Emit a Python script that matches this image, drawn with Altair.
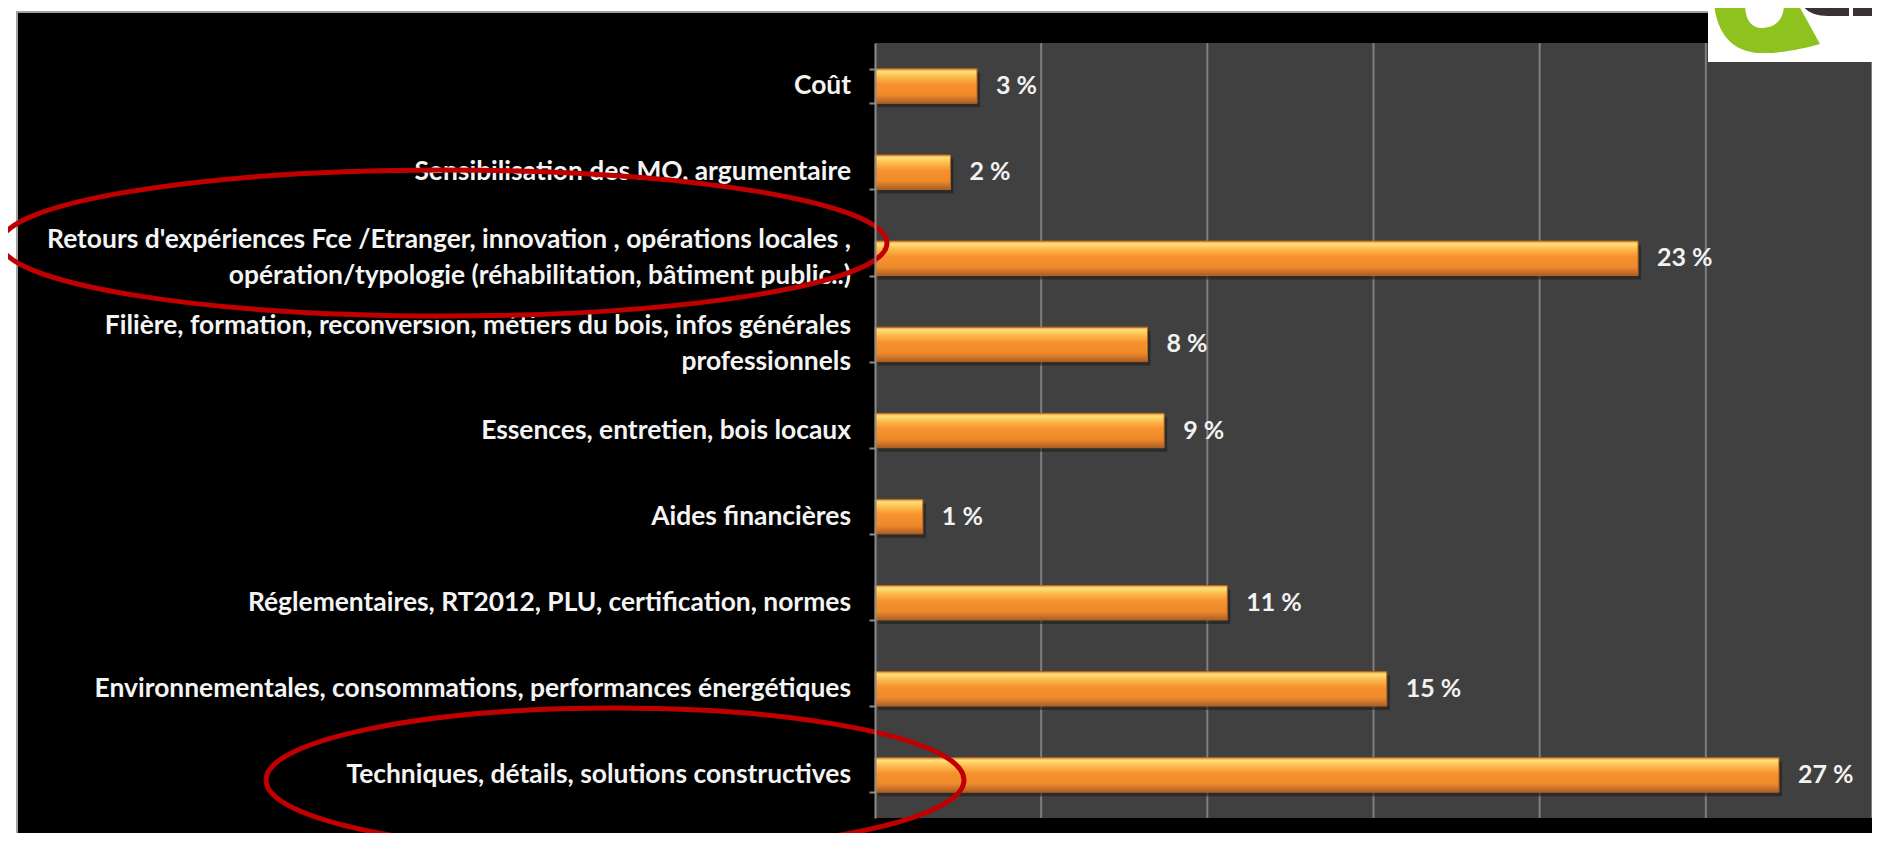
import altair as alt
import pandas as pd

# ---------------- data ----------------
categories = [
    "Coût",
    "Sensibilisation des MO, argumentaire",
    "Retours d'expériences Fce /Etranger, innovation , opérations locales ,\nopération/typologie (réhabilitation, bâtiment public..)",
    "Filière, formation, reconversion, métiers du bois, infos générales\nprofessionnels",
    "Essences, entretien, bois locaux",
    "Aides financières",
    "Réglementaires, RT2012, PLU, certification, normes",
    "Environnementales, consommations, performances énergétiques",
    "Techniques, détails, solutions constructives",
]
values = [3.07, 2.27, 22.96, 8.2, 8.7, 1.44, 10.6, 15.4, 27.2]
value_labels = ["3 %", "2 %", "23 %", "8 %", "9 %", "1 %", "11 %", "15 %", "27 %"]
grid_ticks = [5, 10, 15, 20, 25, 30]

df = pd.DataFrame({"cat": categories, "value": values, "label": value_labels})
grid_df = pd.DataFrame({"t": grid_ticks})
one = alt.Data(values=[{"k": 0}])

W, H = 997, 775
X0, Y0 = 875, 43  # page position of the plot origin (for decorations)
LINE_H = 36
LABEL_FONT = dict(font="Lato", fontWeight="bold", fontSize=26.4, color="#f4f4f4")

x_scale = alt.Scale(domain=[0, 30], nice=False, zero=True)
y_scale = alt.Scale(domain=categories, paddingInner=0.6, paddingOuter=0.3)
y_axis = alt.Axis(
    title=None, labels=False, zindex=2,
    domainColor="#8c8c8c", domainWidth=2, tickColor="#8c8c8c", tickWidth=2,
    tickSize=6, tickBand="extent", grid=False,
)

X = alt.X("value:Q", scale=x_scale, axis=None)
Y = alt.Y("cat:N", scale=y_scale, sort=None, axis=y_axis)

# ---------------- decorations ----------------
frame = alt.Chart(one).mark_rect(color="#000000", stroke="#a0a0a0", strokeWidth=2).encode(
    x=alt.value(17 - X0), x2=alt.value(1895 - X0),
    y=alt.value(12 - Y0), y2=alt.value(860 - Y0),
)
plot_bg = alt.Chart(one).mark_rect(color="#404040").encode(
    x=alt.value(0), x2=alt.value(W + 6), y=alt.value(0), y2=alt.value(H)
)
grid = alt.Chart(grid_df).mark_rule(color="#7f7f7f", strokeWidth=2).encode(
    x=alt.X("t:Q", scale=x_scale, axis=None)
)

gradient = alt.LinearGradient(
    gradient="linear", x1=0, x2=0, y1=0, y2=1,
    stops=[
        alt.GradientStop(offset=0.0, color="#E8963A"),
        alt.GradientStop(offset=0.08, color="#FFE07A"),
        alt.GradientStop(offset=0.22, color="#FDBE50"),
        alt.GradientStop(offset=0.45, color="#F7922E"),
        alt.GradientStop(offset=0.75, color="#EE8A2A"),
        alt.GradientStop(offset=0.9, color="#C9712A"),
        alt.GradientStop(offset=1.0, color="#A85E22"),
    ],
)

shadow = alt.Chart(df).mark_bar(color="#1a1a1a", opacity=0.55, xOffset=3, yOffset=4).encode(x=X, y=Y)
bars = alt.Chart(df).mark_bar(color=gradient, stroke="#B8651E", strokeWidth=1).encode(x=X, y=Y)
texts = alt.Chart(df).mark_text(
    align="left", baseline="middle", dx=19, font="Lato", fontWeight="bold",
    fontSize=25, color="#f2f2f2"
).encode(x=X, y=Y, text="label:N")

# category labels (left of the axis)
cat_single = alt.Chart(df).transform_filter(
    "indexof(datum.cat, '\\n') < 0"
).mark_text(align="right", baseline="middle", **LABEL_FONT).encode(
    y=Y, x=alt.value(-24), text="cat:N"
)
cat_multi = alt.Chart(df).transform_filter(
    "indexof(datum.cat, '\\n') >= 0"
).transform_calculate(
    lines="split(datum.cat, '\\n')"
).mark_text(align="right", baseline="middle", lineHeight=LINE_H, dy=-LINE_H / 2,
            **LABEL_FONT).encode(
    y=Y, x=alt.value(-24), text="lines:N"
)

ell1_rx, ell1_ry, ell1_cx, ell1_cy = 443, 73, 444, 243
ell2_rx, ell2_ry, ell2_cx, ell2_cy = 349, 72, 615, 780


def ellipse(rx, ry, cx, cy):
    r = ry / rx
    path = f"M-1,0A1,{r:.4f} 0 1,1 1,0A1,{r:.4f} 0 1,1 -1,0Z"
    return alt.Chart(one).mark_point(
        shape=path, size=(2 * rx) ** 2, filled=False, color="#C00000",
        strokeWidth=5, opacity=1
    ).encode(x=alt.value(cx - X0), y=alt.value(cy - Y0))


ell1 = ellipse(ell1_rx, ell1_ry, ell1_cx, ell1_cy)
ell2 = ellipse(ell2_rx, ell2_ry, ell2_cx, ell2_cy)


def shape_px(path, color):
    # size=4 -> path units are pixels relative to the plot origin
    return alt.Chart(one).mark_point(
        shape=path, size=4, filled=True, color=color, opacity=1, strokeWidth=0
    ).encode(x=alt.value(0), y=alt.value(0))


logo_bg = alt.Chart(one).mark_rect(color="#ffffff").encode(
    x=alt.value(1708 - X0), x2=alt.value(1895 - X0), y=alt.value(-60), y2=alt.value(62 - Y0)
)
green_path = (
    f"M{1714 - X0},{4 - Y0} C{1718 - X0},{40 - Y0} {1738 - X0},{54 - Y0} {1765 - X0},{53 - Y0} "
    f"C{1785 - X0},{53 - Y0} {1805 - X0},{48 - Y0} {1820 - X0},{44 - Y0} "
    f"L{1798 - X0},{4 - Y0} L{1784 - X0},{4 - Y0} "
    f"C{1784 - X0},{20 - Y0} {1775 - X0},{28 - Y0} {1762 - X0},{28 - Y0} "
    f"C{1750 - X0},{28 - Y0} {1745 - X0},{18 - Y0} {1745 - X0},{4 - Y0} Z"
)
dark_path = (
    f"M{1802 - X0},{4 - Y0} C{1806 - X0},{12 - Y0} {1815 - X0},{16 - Y0} {1828 - X0},{16 - Y0} "
    f"L{1849 - X0},{16 - Y0} L{1849 - X0},{4 - Y0} Z "
    f"M{1853 - X0},{4 - Y0} L{1872 - X0},{4 - Y0} L{1872 - X0},{16 - Y0} L{1853 - X0},{16 - Y0} Z"
)
logo_green = shape_px(green_path, "#8DC21F")
logo_dark = shape_px(dark_path, "#3B3134")

chart = alt.layer(
    frame, plot_bg, grid, shadow, bars, texts, cat_single, cat_multi,
    ell1, ell2, logo_bg, logo_green, logo_dark
).properties(
    width=W, height=H,
    autosize=alt.AutoSizeParams(type="none"),
    padding={"left": X0 - 8, "top": Y0 - 8, "right": 0, "bottom": 15},
    background="#ffffff",
).configure_view(stroke=None, fill=None)

chart.save("out.html", embed_options={"renderer": "svg", "actions": False})
